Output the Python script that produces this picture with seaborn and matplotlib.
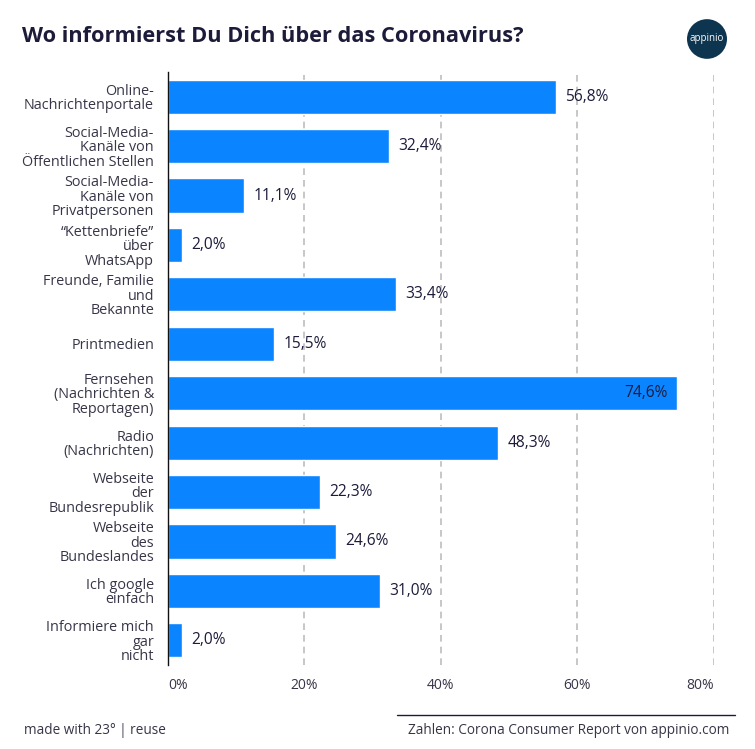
import pandas as pd
import seaborn as sns
import matplotlib.pyplot as plt
from matplotlib.patches import Circle
from matplotlib.lines import Line2D

# Data
categories = [
    'Online-\nNachrichtenportale',
    'Social-Media-\nKanäle von\nÖffentlichen Stellen',
    'Social-Media-\nKanäle von\nPrivatpersonen',
    '“Kettenbriefe”\nüber\nWhatsApp',
    'Freunde, Familie\nund\nBekannte',
    'Printmedien',
    'Fernsehen\n(Nachrichten &\nReportagen)',
    'Radio\n(Nachrichten)',
    'Webseite\nder\nBundesrepublik',
    'Webseite\ndes\nBundeslandes',
    'Ich google\neinfach',
    'Informiere mich\ngar\nnicht',
]
values = [56.8, 32.4, 11.1, 2.0, 33.4, 15.5, 74.6, 48.3, 22.3, 24.6, 31.0, 2.0]
x_ticks = [0, 20, 40, 60, 80]
x_tick_labels = ['0%', '20%', '40%', '60%', '80%']

bar_color = '#0a85ff'
text_dark = '#1c1b3a'
text_label = '#363648'

sns.set_theme(style='white')
plt.rcParams['font.family'] = ['Open Sans', 'DejaVu Sans']

df = pd.DataFrame({'Kategorie': categories, 'Anteil': values})

fig = plt.figure(figsize=(7.55, 7.49), dpi=100)
ax = fig.add_axes([0.2225, 0.1121, 0.7232, 0.7918])

sns.barplot(data=df, y='Kategorie', x='Anteil', orient='h', color=bar_color,
            saturation=1, width=0.69, ax=ax)

ax.set_xlim(0, 80)
ax.set_xlabel('')
ax.set_ylabel('')

# gridlines
for t in x_ticks[1:]:
    ax.axvline(t, color='#bdbdbd', linestyle=(0, (4, 3)), linewidth=1.2, zorder=0)

for s in ['top', 'right', 'bottom']:
    ax.spines[s].set_visible(False)
ax.spines['left'].set_color('#111111')
ax.spines['left'].set_linewidth(1.0)

ax.set_xticks(x_ticks)
ax.set_xticklabels(x_tick_labels, fontsize=10, color=text_label)
xl = ax.get_xticklabels()
xl[0].set_ha('left')
xl[-1].set_ha('right')
ax.tick_params(axis='x', length=0, pad=9)
ax.tick_params(axis='y', length=0, pad=10, labelsize=10.4, labelcolor=text_label)
for lab in ax.get_yticklabels():
    lab.set_linespacing(0.95)

# value labels
for i, v in enumerate(values):
    txt = f'{v:.1f}%'.replace('.', ',')
    if v > 70:
        ax.text(v - 1.4, i, txt, ha='right', va='center', fontsize=11.2, color=text_dark)
    else:
        ax.text(v + 1.4, i, txt, ha='left', va='center', fontsize=11.2, color=text_dark)

# title
fig.text(22 / 755, 1 - 37 / 749, 'Wo informierst Du Dich über das Coronavirus?',
         fontsize=15.7, fontweight='bold', color=text_dark, ha='left', va='center')

# logo
logo = Circle((707 / 755, 1 - 39 / 749), 20 / 755, transform=fig.transFigure,
              facecolor='#0d3550', edgecolor='none')
fig.add_artist(logo)
fig.text(707 / 755, 1 - 39 / 749, 'appinio', fontsize=7, color='white',
         ha='center', va='center')

# footer
fig.add_artist(Line2D([397 / 755, 735 / 755], [1 - 715 / 749, 1 - 715 / 749],
                      transform=fig.transFigure, color='#1c1b3a', linewidth=1))
fig.text(24 / 755, 1 - 731 / 749, 'made with 23° | reuse', fontsize=9.8,
         color=text_label, ha='left', va='center')
fig.text(729 / 755, 1 - 731 / 749, 'Zahlen: Corona Consumer Report von appinio.com',
         fontsize=9.8, color=text_label, ha='right', va='center')

fig.savefig('out.png', dpi=100, facecolor='white')
